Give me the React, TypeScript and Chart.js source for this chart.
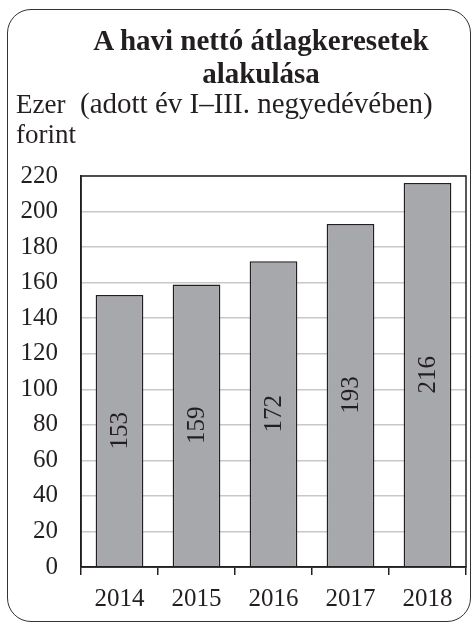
import React, { useEffect, useRef } from "react";
import { Chart, registerables } from "chart.js";

Chart.register(...registerables);

const years = ["2014", "2015", "2016", "2017", "2018"];
const values = [153, 159, 172, 193, 216];
const yMin = 0;
const yMax = 220;
const yStep = 20;

const titleLines = ["A havi nettó átlagkeresetek", "alakulása"];
const subtitle = "(adott év I–III. negyedévében)";
const unitLines = ["Ezer", "forint"];

const FONT = "'Liberation Serif', 'Times New Roman', serif";
const INK = "#231f20";

const framePlugin = {
  id: "frame",
  afterDraw(chart: any) {
    const { ctx, chartArea } = chart;
    ctx.save();
    ctx.strokeStyle = INK;
    ctx.lineWidth = 1.5;
    ctx.strokeRect(chartArea.left, chartArea.top, chartArea.right - chartArea.left, chartArea.bottom - chartArea.top);
    ctx.restore();
  },
};

const valueLabelPlugin = {
  id: "valueLabels",
  afterDatasetsDraw(chart: any) {
    const { ctx } = chart;
    const meta = chart.getDatasetMeta(0);
    const data = chart.data.datasets[0].data as number[];
    ctx.save();
    ctx.fillStyle = INK;
    ctx.font = `25px ${FONT}`;
    ctx.textAlign = "center";
    ctx.textBaseline = "middle";
    meta.data.forEach((el: any, i: number) => {
      const p = el.getProps(["x", "y", "base"], true);
      ctx.save();
      ctx.translate(p.x, (p.y + p.base) / 2);
      ctx.rotate(-Math.PI / 2);
      ctx.fillText(String(data[i]), 0, 1);
      ctx.restore();
    });
    ctx.restore();
  },
};

export default function App() {
  const canvasRef = useRef<HTMLCanvasElement | null>(null);

  useEffect(() => {
    if (!canvasRef.current) return;
    const chart = new Chart(canvasRef.current, {
      type: "bar",
      data: {
        labels: years,
        datasets: [
          {
            data: values,
            backgroundColor: "#a7a8ab",
            borderColor: INK,
            borderWidth: 1.5,
            categoryPercentage: 1,
            barPercentage: 0.62,
          },
        ],
      },
      options: {
        responsive: false,
        animation: false,
        devicePixelRatio: 1,
        layout: { padding: { top: 176, left: 0, right: 6, bottom: 0 } },
        plugins: {
          legend: { display: false },
          tooltip: { enabled: false },
          title: { display: false },
        },
        scales: {
          x: {
            offset: true,
            grid: {
              offset: true,
              drawOnChartArea: false,
              drawTicks: true,
              tickLength: 8,
              color: INK,
              lineWidth: 1.5,
            },
            border: { display: true, color: INK, width: 1.5 },
            ticks: { color: INK, padding: 9, font: { family: FONT, size: 25 } },
            afterFit(scale: any) {
              scale.height = 57;
            },
          },
          y: {
            min: yMin,
            max: yMax,
            ticks: { stepSize: yStep, color: INK, padding: 23, font: { family: FONT, size: 25 } },
            grid: { color: "#c8c8c8", lineWidth: 1.5, drawTicks: false },
            border: { display: true, color: INK, width: 1.5 },
            afterFit(scale: any) {
              scale.width = 81;
            },
          },
        },
      },
      plugins: [framePlugin, valueLabelPlugin],
    });
    return () => chart.destroy();
  }, []);

  return (
    <div style={{ position: "absolute", left: 0, top: 0, width: 472, height: 624, background: "#fff" }}>
      <div
        style={{
          position: "absolute",
          left: 7,
          top: 9,
          width: 464,
          height: 613,
          boxSizing: "border-box",
          border: "1.5px solid #333",
          borderRadius: 24,
        }}
      />
      <canvas ref={canvasRef} width={472} height={624} style={{ position: "absolute", left: 0, top: 0, width: 472, height: 624 }} />
      <div
        style={{
          position: "absolute",
          left: 60,
          top: 24,
          width: 402,
          textAlign: "center",
          fontFamily: FONT,
          fontWeight: "bold",
          fontSize: 29,
          lineHeight: "33px",
          color: INK,
          whiteSpace: "nowrap",
        }}
      >
        {titleLines.map((t) => (
          <div key={t}>{t}</div>
        ))}
      </div>
      <div
        style={{
          position: "absolute",
          left: 80,
          top: 88,
          fontFamily: FONT,
          fontSize: 29,
          lineHeight: "30px",
          color: INK,
          whiteSpace: "nowrap",
        }}
      >
        {subtitle}
      </div>
      <div
        style={{
          position: "absolute",
          left: 16,
          top: 89,
          fontFamily: FONT,
          fontSize: 27,
          lineHeight: "30px",
          color: INK,
          whiteSpace: "nowrap",
        }}
      >
        {unitLines.map((t) => (
          <div key={t}>{t}</div>
        ))}
      </div>
    </div>
  );
}
